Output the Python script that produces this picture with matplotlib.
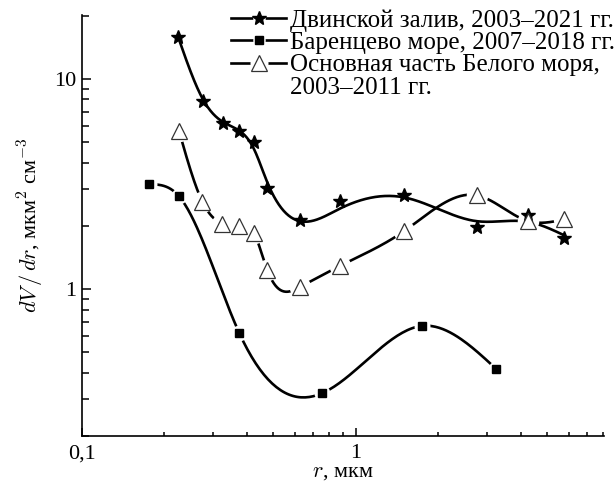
import numpy as np
import matplotlib
matplotlib.use("Agg")
import matplotlib.pyplot as plt
from matplotlib.lines import Line2D
from matplotlib.ticker import FixedLocator, FuncFormatter, NullFormatter
from matplotlib.legend_handler import HandlerTuple

plt.rcParams['font.family'] = ['Liberation Serif', 'DejaVu Serif']
plt.rcParams['mathtext.fontset'] = 'cm'

# ---- data ----
star_r = [0.225, 0.276, 0.328, 0.375, 0.425, 0.475, 0.625, 0.874, 1.50, 2.76, 4.25, 5.76]
star_v = [15.9, 7.88, 6.19, 5.65, 5.03, 3.02, 2.14, 2.63, 2.82, 1.97, 2.25, 1.75]
star_label = 'Двинской залив, 2003–2021 гг.'

sq_r = [0.1755, 0.226, 0.375, 0.750, 1.75, 3.26]
sq_v = [3.16, 2.77, 0.619, 0.319, 0.669, 0.416]
sq_label = 'Баренцево море, 2007–2018 гг.'

tri_r = [0.226, 0.275, 0.325, 0.375, 0.425, 0.475, 0.625, 0.874, 1.50, 2.76, 4.25, 5.76]
tri_v = [5.67, 2.61, 2.05, 2.00, 1.85, 1.23, 1.025, 1.29, 1.89, 2.80, 2.11, 2.15]
tri_label = 'Основная часть Белого моря,'
tri_label2 = '2003–2011 гг.'

x_major = [0.1, 1]
y_major = [1, 10]
xlim = (0.1, 8.05)
ylim = (0.2, 20.2)


def smooth_curve(x, y, lam, weights=None, per=40):
    """Penalised (smoothing) cubic spline in log-log space."""
    lx, ly = np.log10(x), np.log10(y)
    w = np.ones(len(lx)) if weights is None else np.asarray(weights, float)
    pieces = [np.linspace(lx[i], lx[i + 1], per, endpoint=False) for i in range(len(lx) - 1)]
    g = np.concatenate(pieces + [lx[-1:]])
    idx = np.array([i * per for i in range(len(lx))])
    N = len(g)
    A = np.zeros((len(lx), N))
    A[np.arange(len(lx)), idx] = 1.0
    h = np.diff(g)
    D = np.zeros((N - 2, N))
    for i in range(1, N - 1):
        h0, h1 = h[i - 1], h[i]
        D[i - 1, i - 1] = 2 / (h0 * (h0 + h1))
        D[i - 1, i] = -2 / (h0 * h1)
        D[i - 1, i + 1] = 2 / (h1 * (h0 + h1))
    D *= np.sqrt((h[:-1] + h[1:]) / 2)[:, None]
    W = np.diag(w)
    M = A.T @ W @ A + lam * D.T @ D
    f = np.linalg.solve(M, A.T @ W @ ly)
    return 10 ** g, 10 ** f


fig = plt.figure(figsize=(6.16, 4.83), dpi=100)
ax = fig.add_axes([82 / 616, 47 / 483, (604 - 82) / 616, (436 - 15) / 483])
ax.set_xscale('log')
ax.set_yscale('log')

lw = 1.9
# curves
star_w = [20, 20, 20, 20, 20, 20, 0.6, 1, 1, 1, 1, 1]
xs, ys = smooth_curve(star_r, star_v, 3e-4, weights=star_w)
ax.plot(xs, ys, color='k', lw=lw, zorder=2, solid_capstyle='butt')
xs, ys = smooth_curve(sq_r, sq_v, 1e-7)
ax.plot(xs, ys, color='k', lw=lw, zorder=2, solid_capstyle='butt')
xs, ys = smooth_curve(tri_r, tri_v, 1e-7)
ax.plot(xs, ys, color='k', lw=lw, zorder=2, solid_capstyle='butt')

# white halos for line gaps around markers
ax.plot(sq_r, sq_v, ls='none', marker='o', ms=11.5, mfc='white', mec='none', zorder=3)
ax.plot(tri_r, tri_v, ls='none', marker='o', ms=15.5, mfc='white', mec='none', zorder=3)

# markers
ax.plot(star_r, star_v, ls='none', marker='*', ms=10.5, color='k', zorder=4)
ax.plot(sq_r, sq_v, ls='none', marker='s', ms=5.5, color='k', zorder=4)
ax.plot(tri_r, tri_v, ls='none', marker='^', ms=11.5, mfc='white', mec='#333333',
        mew=0.9, zorder=5)

ax.set_xlim(*xlim)
ax.set_ylim(*ylim)

for s in ('top', 'right'):
    ax.spines[s].set_visible(False)
for s in ('left', 'bottom'):
    ax.spines[s].set_linewidth(1.2)

ax.xaxis.set_major_locator(FixedLocator(x_major))
ax.xaxis.set_minor_locator(FixedLocator([m * d for d in (0.1, 1) for m in range(2, 10)]))
ax.yaxis.set_major_locator(FixedLocator(y_major))
ax.yaxis.set_minor_locator(FixedLocator([m * d for d in (0.1, 1, 10) for m in range(2, 10)]))
fmt = FuncFormatter(lambda v, p: ('%g' % v).replace('.', ','))
ax.xaxis.set_major_formatter(fmt)
ax.yaxis.set_major_formatter(fmt)
ax.xaxis.set_minor_formatter(NullFormatter())
ax.yaxis.set_minor_formatter(NullFormatter())

ax.tick_params(axis='both', which='both', direction='in', width=1.1, labelsize=16)
ax.tick_params(axis='x', which='major', length=6, pad=6)
ax.tick_params(axis='x', which='minor', length=3)
ax.tick_params(axis='y', which='major', length=6.5, pad=4)
ax.tick_params(axis='y', which='minor', length=5)

ax.set_xlabel(r'$r$, мкм', fontsize=16, labelpad=0)
ax.set_ylabel(r'$dV\,/\,dr$, мкм$^2$ см$^{-3}$', fontsize=16, labelpad=6)

# legend
h_star = (Line2D([], [], color='k', lw=lw),
          Line2D([], [], ls='none', marker='o', ms=9, mfc='white', mec='none'),
          Line2D([], [], ls='none', marker='*', ms=10.5, color='k'))
h_sq = (Line2D([], [], color='k', lw=lw),
        Line2D([], [], ls='none', marker='o', ms=9, mfc='white', mec='none'),
        Line2D([], [], ls='none', marker='s', ms=5.5, color='k'))
h_tri = (Line2D([], [], color='k', lw=lw),
         Line2D([], [], ls='none', marker='o', ms=13, mfc='white', mec='none'),
         Line2D([], [], ls='none', marker='^', ms=11.5, mfc='white', mec='#333333', mew=0.9))
h_none = Line2D([], [], ls='none')
leg = fig.legend([h_star, h_sq, h_tri, h_none],
                 [star_label, sq_label, tri_label, tri_label2],
                 handler_map={tuple: HandlerTuple(ndivide=1)},
                 loc='upper left', bbox_to_anchor=(231 / 616, 1 - 9 / 483),
                 frameon=False, fontsize=18, handlelength=2.2, handletextpad=0.15,
                 labelspacing=0.0, borderpad=0, borderaxespad=0, numpoints=1)

fig.savefig('out.png', dpi=100)
